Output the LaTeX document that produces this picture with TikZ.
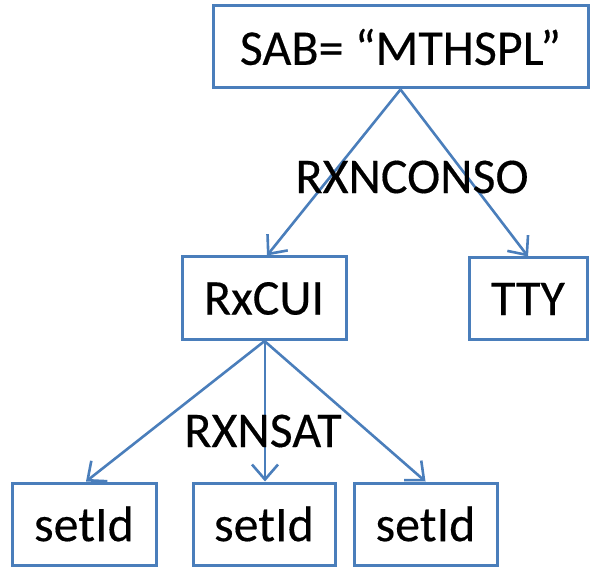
\documentclass[tikz,border=0pt]{standalone}
\usepackage{fontspec}
\setmainfont{Carlito}
\newfontfamily\diafont{Carlito}[FakeBold=0.3]
\usetikzlibrary{arrows.meta}
\definecolor{ppblue}{RGB}{74,126,187}
\begin{document}
\begin{tikzpicture}[x=1pt,y=-1pt,
  box/.style={draw=ppblue, line width=3pt, inner sep=0pt, fill=white,
    font=\diafont\fontsize{50}{60}\selectfont},
  lbl/.style={inner sep=0pt, font=\diafont\fontsize{50}{60}\selectfont},
  conn/.style={draw=ppblue, line width=2.6pt,
    -{Straight Barb[length=15pt, width=26pt, line width=2.6pt]}}]
\useasboundingbox (0,0) rectangle (600,585);
\node[box, minimum width=375pt, minimum height=82pt] (sab) at (400.5,47) {SAB= “MTHSPL”};
\node[box, minimum width=164pt, minimum height=83pt] (rx) at (264,298.5) {RxCUI};
\node[box, minimum width=118pt, minimum height=82pt] (tty) at (528,299) {TTY};
\node[box, minimum width=144pt, minimum height=82pt] (s1) at (84,524) {setId};
\node[box, minimum width=142pt, minimum height=82pt] (s2) at (264,524) {setId};
\node[box, minimum width=143pt, minimum height=82pt] (s3) at (425.5,524) {setId};
\draw[conn] (sab.south) -- ([xshift=3pt]rx.north);
\draw[conn] (sab.south) -- (tty.north);
\draw[conn] (rx.south) -- ([xshift=2pt]s1.north);
\draw[conn] ([xshift=1pt]rx.south) -- ([xshift=1pt]s2.north);
\draw[conn] ([xshift=1pt]rx.south) -- (s3.north);
\node[lbl] (l1) at (412,177) {RXNCONSO};
\node[lbl] (l2) at (263,431) {RXNSAT};
\end{tikzpicture}
\end{document}
